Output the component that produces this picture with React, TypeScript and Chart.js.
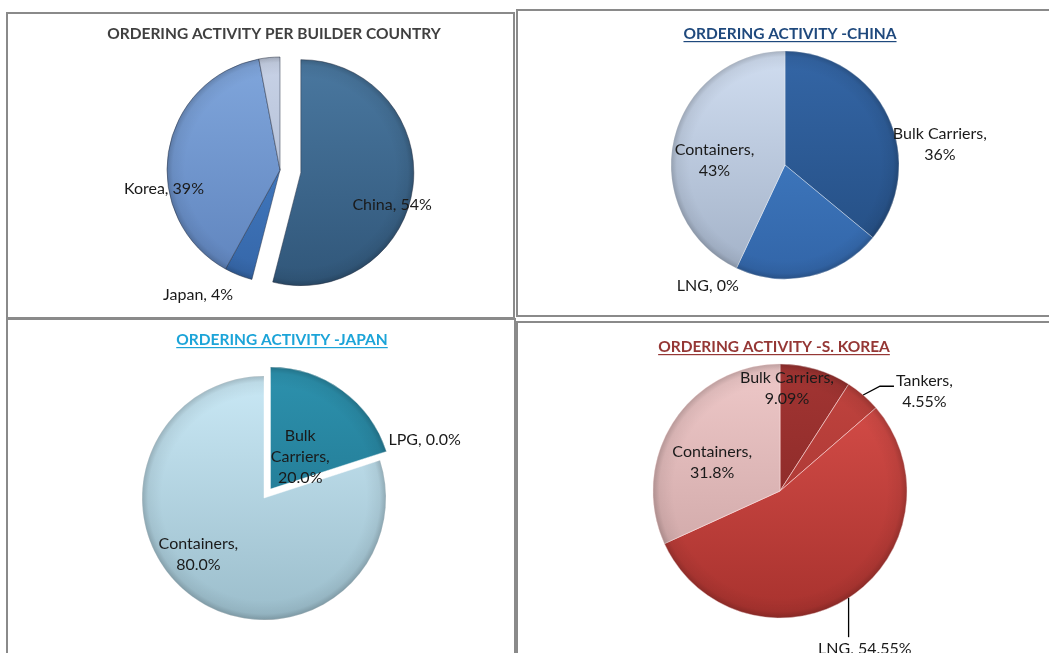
import React, { useEffect, useRef } from "react";
import { Chart, registerables } from "chart.js";

Chart.register(...registerables);

// ---------- data ----------
const countryCategories = ["China", "Japan", "Korea", "Other"];
const countryShares = [54, 4, 39, 3];

const chinaCategories = ["Bulk Carriers", "Tankers", "LNG", "Containers"];
const chinaShares = [36, 21, 0, 43];

const japanCategories = ["Bulk Carriers", "LPG", "Containers"];
const japanShares = [20.0, 0.0, 80.0];

const koreaCategories = ["Bulk Carriers", "Tankers", "LNG", "Containers"];
const koreaShares = [9.09, 4.55, 54.55, 31.8];

// ---------- layout / style ----------
const W = 1049;
const H = 653;
const FONT = "Lato, 'Open Sans', 'DejaVu Sans', sans-serif";
const LABEL_SIZE = 16;
const LINE_H = 21;

type LabelSpec = { angle: number; r: number; wrap: 0 | 1 | 2; leader?: "h" | "v" } | null;

type PanelSpec = {
  title: string;
  titleColor: string;
  underline: boolean;
  titleX: number;
  titleBaseline: number;
  cx: number;
  cy: number;
  radius: number;
  categories: string[];
  values: number[];
  decimals: number | null;
  top: string[];
  bottom: string[];
  border: string;
  explode: number[];
  labels: LabelSpec[];
};

const panels: PanelSpec[] = [
  {
    title: "ORDERING ACTIVITY PER BUILDER COUNTRY",
    titleColor: "#404040",
    underline: false,
    titleX: 274,
    titleBaseline: 39,
    cx: 280,
    cy: 170,
    radius: 113,
    categories: countryCategories,
    values: countryShares,
    decimals: 0,
    top: ["#4a78a0", "#4a86cf", "#80a6dc", "#c8d2e6"],
    bottom: ["#31577a", "#3566a8", "#5f84bd", "#a5b3cc"],
    border: "rgba(45,55,75,0.5)",
    explode: [21, 0, 0, 0],
    labels: [
      { angle: 107.4, r: 1.04, wrap: 0 },
      { angle: 213.3, r: 1.32, wrap: 0 },
      { angle: 261, r: 1.04, wrap: 0 },
      null,
    ],
  },
  {
    title: "ORDERING ACTIVITY -CHINA",
    titleColor: "#1f497d",
    underline: true,
    titleX: 790,
    titleBaseline: 39,
    cx: 785,
    cy: 165,
    radius: 114,
    categories: chinaCategories,
    values: chinaShares,
    decimals: 0,
    top: ["#3466a6", "#4684cc", "#4684cc", "#d0ddf0"],
    bottom: ["#234c80", "#3265a8", "#3265a8", "#a2b1c7"],
    border: "rgba(255,255,255,0.35)",
    explode: [0, 0, 0, 0],
    labels: [
      { angle: 82.5, r: 1.37, wrap: 1 },
      null,
      { angle: 212.5, r: 1.26, wrap: 0 },
      { angle: 274, r: 0.62, wrap: 1 },
    ],
  },
  {
    title: "ORDERING ACTIVITY -JAPAN",
    titleColor: "#1ca4d8",
    underline: true,
    titleX: 282,
    titleBaseline: 345,
    cx: 264,
    cy: 498,
    radius: 122,
    categories: japanCategories,
    values: japanShares,
    decimals: 1,
    top: ["#2c90ac", "#2c90ac", "#c9e8f5"],
    bottom: ["#1d6c85", "#1d6c85", "#9bbdcb"],
    border: "rgba(255,255,255,0.45)",
    explode: [11, 0, 0],
    labels: [
      { angle: 41.3, r: 0.45, wrap: 2 },
      { angle: 70.2, r: 1.4, wrap: 0 },
      { angle: 229.2, r: 0.71, wrap: 1 },
    ],
  },
  {
    title: "ORDERING ACTIVITY -S. KOREA",
    titleColor: "#953735",
    underline: true,
    titleX: 774,
    titleBaseline: 352,
    cx: 780,
    cy: 491,
    radius: 127,
    categories: koreaCategories,
    values: koreaShares,
    decimals: null,
    top: ["#a33533", "#c2443f", "#da504b", "#eec8c8"],
    bottom: ["#7c2321", "#9d312e", "#a8322e", "#c8a0a0"],
    border: "rgba(255,225,225,0.55)",
    explode: [0, 0, 0, 0],
    labels: [
      { angle: 3.9, r: 0.81, wrap: 1 },
      { angle: 55.5, r: 1.38, wrap: 1, leader: "h" },
      { angle: 151.7, r: 1.41, wrap: 0, leader: "v" },
      { angle: 293, r: 0.58, wrap: 1 },
    ],
  },
];

function fmt(v: number, decimals: number | null) {
  return decimals === null ? String(v) : v.toFixed(decimals);
}

function labelLines(name: string, value: string, wrap: number): string[] {
  if (wrap === 0) return [`${name}, ${value}%`];
  if (wrap === 1) return [`${name},`, `${value}%`];
  const words = name.split(" ");
  words[words.length - 1] += ",";
  return [...words, `${value}%`];
}

function makeChart(canvas: HTMLCanvasElement, p: PanelSpec) {
  const padL = Math.max(0, 2 * p.cx - W);
  const padR = Math.max(0, W - 2 * p.cx);
  const padT = Math.max(0, 2 * p.cy - H);
  const padB = Math.max(0, H - 2 * p.cy);

  // exploded slices: move the library-computed arc centre outward along its mid angle
  const explodePlugin = {
    id: "explode",
    afterDatasetsUpdate(chart: any) {
      const meta = chart.getDatasetMeta(0);
      meta.data.forEach((arc: any, i: number) => {
        const d = p.explode[i] || 0;
        if (!d) return;
        const mid = (arc.startAngle + arc.endAngle) / 2;
        arc.x += Math.cos(mid) * d;
        arc.y += Math.sin(mid) * d;
      });
    },
  };

  const shadePlugin = {
    id: "shade",
    afterDatasetsDraw(chart: any) {
      const ctx = chart.ctx as CanvasRenderingContext2D;
      const meta = chart.getDatasetMeta(0);
      meta.data.forEach((arc: any) => {
        const { x, y, startAngle, endAngle, outerRadius, circumference } = arc;
        if (!circumference) return;
        ctx.save();
        ctx.beginPath();
        ctx.moveTo(x, y);
        ctx.arc(x, y, outerRadius, startAngle, endAngle);
        ctx.closePath();
        const g = ctx.createRadialGradient(x, y, 0, x, y, outerRadius);
        g.addColorStop(0, "rgba(0,0,0,0)");
        g.addColorStop(0.84, "rgba(0,0,0,0)");
        g.addColorStop(0.95, "rgba(0,0,0,0.06)");
        g.addColorStop(1, "rgba(0,0,0,0.2)");
        ctx.fillStyle = g;
        ctx.fill();
        ctx.restore();
      });
    },
  };

  const labelPlugin = {
    id: "sliceLabels",
    afterDatasetsDraw(chart: any) {
      const ctx = chart.ctx as CanvasRenderingContext2D;
      const meta = chart.getDatasetMeta(0);
      const ca = chart.chartArea;
      const ccx = (ca.left + ca.right) / 2;
      const ccy = (ca.top + ca.bottom) / 2;
      ctx.save();
      ctx.font = `${LABEL_SIZE}px ${FONT}`;
      ctx.textAlign = "center";
      ctx.textBaseline = "middle";
      meta.data.forEach((arc: any, i: number) => {
        const spec = p.labels[i];
        if (!spec) return;
        const R = arc.outerRadius;
        const a = ((spec.angle - 90) * Math.PI) / 180;
        const px = ccx + Math.cos(a) * R * spec.r;
        const py = ccy + Math.sin(a) * R * spec.r;
        const lines = labelLines(p.categories[i], fmt(p.values[i], p.decimals), spec.wrap);
        const y0 = py - ((lines.length - 1) / 2) * LINE_H;
        if (spec.leader) {
          const mid = (arc.startAngle + arc.endAngle) / 2;
          const sx = arc.x + Math.cos(mid) * R;
          const sy = arc.y + Math.sin(mid) * R;
          ctx.strokeStyle = "#000";
          ctx.lineWidth = 1.3;
          ctx.beginPath();
          ctx.moveTo(sx, sy);
          if (spec.leader === "h") {
            const left = px - ctx.measureText(lines[0]).width / 2;
            ctx.lineTo(left - 16, y0 + 5);
            ctx.lineTo(left - 2, y0 + 5);
          } else {
            ctx.lineTo(sx, y0 - LINE_H / 2 - 1);
          }
          ctx.stroke();
        }
        ctx.fillStyle = "#1a1a1a";
        lines.forEach((t, k) => ctx.fillText(t, px, y0 + k * LINE_H));
      });
      ctx.restore();
    },
  };

  const titlePlugin = {
    id: "panelTitle",
    afterDraw(chart: any) {
      const ctx = chart.ctx as CanvasRenderingContext2D;
      ctx.save();
      ctx.font = `bold 15.5px ${FONT}`;
      ctx.textAlign = "center";
      ctx.textBaseline = "alphabetic";
      ctx.fillStyle = p.titleColor;
      ctx.fillText(p.title, p.titleX, p.titleBaseline);
      if (p.underline) {
        const w = ctx.measureText(p.title).width;
        ctx.fillRect(p.titleX - w / 2, p.titleBaseline + 2, w, 1.2);
      }
      ctx.restore();
    },
  };

  return new Chart(canvas, {
    type: "pie",
    data: {
      labels: p.categories,
      datasets: [
        {
          data: p.values,
          backgroundColor: (c: any) => {
            const i = c.dataIndex ?? 0;
            const ca = c.chart.chartArea;
            if (!ca) return p.top[i];
            const cy = (ca.top + ca.bottom) / 2;
            const g = c.chart.ctx.createLinearGradient(0, cy - p.radius, 0, cy + p.radius);
            g.addColorStop(0, p.top[i]);
            g.addColorStop(1, p.bottom[i]);
            return g;
          },
          borderColor: p.border,
          borderWidth: 1,
        },
      ],
    },
    options: {
      responsive: false,
      animation: false,
      radius: p.radius,
      layout: { padding: { left: padL, right: padR, top: padT, bottom: padB } },
      plugins: {
        legend: { display: false },
        tooltip: { enabled: false },
        title: { display: false },
      },
      events: [],
    } as any,
    plugins: [explodePlugin, shadePlugin, labelPlugin, titlePlugin],
  });
}

function PieLayer({ spec }: { spec: PanelSpec }) {
  const ref = useRef<HTMLCanvasElement | null>(null);
  useEffect(() => {
    if (!ref.current) return;
    const chart = makeChart(ref.current, spec);
    return () => chart.destroy();
  }, [spec]);
  return (
    <canvas
      ref={ref}
      width={W}
      height={H}
      style={{ position: "absolute", left: 0, top: 0, width: W, height: H }}
    />
  );
}

const frames = [
  { left: 6, top: 12, width: 509, height: 307 },
  { left: 516, top: 9, width: 600, height: 308 },
  { left: 6, top: 318, width: 510, height: 400 },
  { left: 516, top: 321, width: 600, height: 400 },
];

export default function App() {
  return (
    <div
      style={{
        position: "absolute",
        left: 0,
        top: 0,
        width: W,
        height: H,
        overflow: "hidden",
        background: "#ffffff",
      }}
    >
      {frames.map((f, i) => (
        <div
          key={i}
          style={{
            position: "absolute",
            boxSizing: "border-box",
            border: "2px solid #8a8a8a",
            ...f,
          }}
        />
      ))}
      {panels.map((p, i) => (
        <PieLayer key={i} spec={p} />
      ))}
    </div>
  );
}
